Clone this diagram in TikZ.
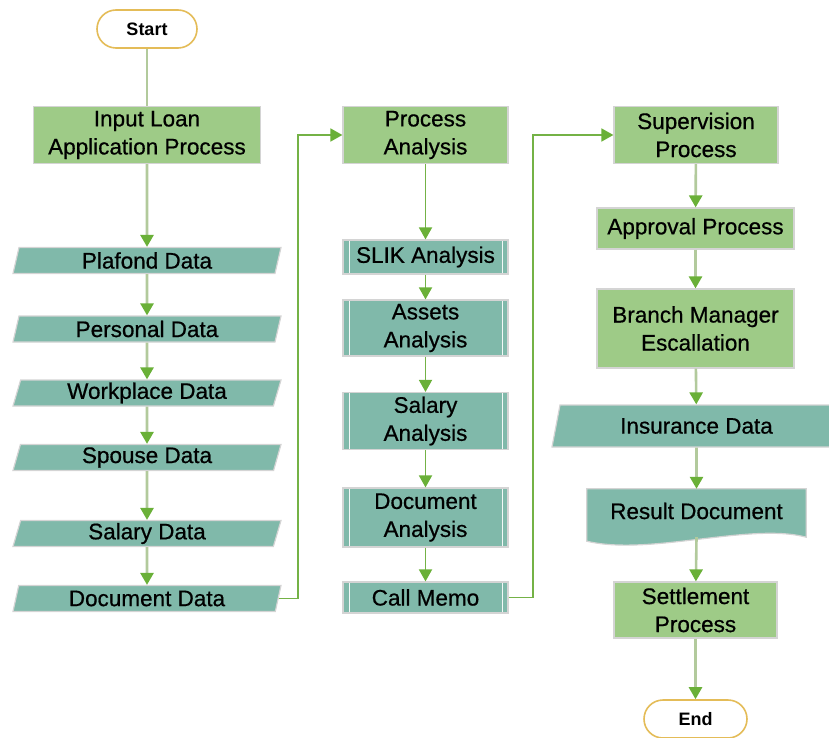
\documentclass[tikz,border=0pt]{standalone}
\usepackage{fontspec}
\setmainfont{Liberation Sans}[BoldFont={Liberation Sans}, BoldFeatures={FakeBold=0.6}]
\newfontfamily\termfont{Liberation Sans}
\usetikzlibrary{arrows.meta, calc, shapes.geometric, backgrounds}
\definecolor{procgreen}{RGB}{158,203,135}
\definecolor{datateal}{RGB}{128,185,170}
\definecolor{boxgray}{RGB}{212,212,212}
\definecolor{termgold}{RGB}{228,188,88}
\definecolor{linepale}{RGB}{178,202,156}
\definecolor{linegreen}{RGB}{116,178,70}
\definecolor{tipgreen}{RGB}{106,176,56}

\begin{document}
\begin{tikzpicture}[x=1pt, y=-1pt,
    every node/.style={font=\fontsize{22.5}{28}\selectfont\bfseries, align=center, inner sep=0pt},
    terminal/.style={draw=termgold, line width=1.6pt, fill=white, rounded corners=19pt, minimum width=100pt, minimum height=38pt, font=\termfont\fontsize{18}{22}\selectfont\bfseries},
    procbox/.style={draw=boxgray, line width=1.2pt, fill=procgreen, minimum height=57pt},
    databox/.style={trapezium, trapezium left angle=70, trapezium right angle=110, trapezium stretches body, draw=boxgray, line width=1.2pt, fill=datateal, minimum width=268pt, minimum height=26pt},
    subproc/.style={draw=boxgray, line width=1.2pt, fill=datateal, minimum width=165pt,
        path picture={\draw[white!90!datateal, line width=1pt]
            ([xshift=6pt]path picture bounding box.north west) -- ([xshift=6pt]path picture bounding box.south west)
            ([xshift=-6pt]path picture bounding box.north east) -- ([xshift=-6pt]path picture bounding box.south east);}},
    flow/.style={linepale, line width=2.6pt, -{Triangle[width=13pt, length=12pt, color=tipgreen]}},
    flowg/.style={flow, linegreen, line width=1.8pt}]
    \useasboundingbox (0,0) rectangle (829,738);

    % Input column
    \node[terminal] (start) at (147,29) {Start};
    \node[procbox, minimum width=227pt] (input) at (147,135) {Input Loan\\Application Process};
    \node[databox] (plafond) at (147,260.5) {Plafond Data};
    \node[databox] (personal) at (147,329) {Personal Data};
    \node[databox] (workplace) at (147,393) {Workplace Data};
    \node[databox] (spouse) at (147,457.5) {Spouse Data};
    \node[databox] (salarydata) at (147,533.5) {Salary Data};
    \node[databox] (docdata) at (147,598.5) {Document Data};

    % Analysis column
    \node[procbox, minimum width=165pt] (procan) at (425.5,135) {Process\\Analysis};
    \node[subproc, minimum height=34pt] (slik) at (425.5,257) {SLIK Analysis};
    \node[subproc, minimum height=56pt] (assets) at (425.5,328) {Assets\\Analysis};
    \node[subproc, minimum height=57pt] (salaryan) at (425.5,421) {Salary\\Analysis};
    \node[subproc, minimum height=59pt] (docan) at (425.5,517.5) {Document\\Analysis};
    \node[subproc, minimum height=31pt] (callmemo) at (425.5,597.5) {Call Memo};

    % Supervision column
    \node[procbox, minimum width=164pt] (superv) at (696,135) {Supervision\\Process};
    \node[procbox, minimum width=197pt, minimum height=41pt] (approval) at (695.5,228.5) {Approval Process};
    \node[procbox, minimum width=197pt, minimum height=79pt] (branch) at (695.5,328.5) {Branch Manager\\Escallation};
    \node[databox, trapezium left angle=63, trapezium right angle=117, minimum width=289pt, minimum height=42pt] (insurance) at (696.5,426) {Insurance Data};
    \node[minimum width=219pt, minimum height=44pt] (result) at (696.5,511) {Result Document};
    \begin{scope}[on background layer]
        \draw[draw=boxgray, line width=1.2pt, fill=datateal] (result.north west) -- (result.north east) -- ([yshift=-4pt]result.south east)
            .. controls ([shift={(-56pt,11pt)}]result.south east) and ([shift={(63pt,-23pt)}]result.south west) .. ([yshift=-8pt]result.south west) -- cycle;
    \end{scope}
    \node[procbox, minimum width=163pt, minimum height=56pt] (settle) at (695.5,610) {Settlement\\Process};
    \node[terminal, minimum width=103pt] (end) at (695.5,719) {End};

    % Jumps between columns
    \coordinate (jumpA) at (298,400);
    \coordinate (jumpB) at (533,400);

    % Connectors
    \draw[linepale, line width=2.6pt] (start) -- (input);
    \draw[flow] (input) -- (plafond);
    \draw[flow] (plafond) -- (personal);
    \draw[flow] (personal) -- (workplace);
    \draw[flow] (workplace) -- (spouse);
    \draw[flow] (spouse) -- (salarydata);
    \draw[flow] (salarydata) -- (docdata);
    \draw[flowg] (docdata.east) -| (jumpA) |- (procan.west);
    \draw[flowg] (procan) -- (slik);
    \draw[flowg] (slik) -- (assets);
    \draw[flowg] (assets) -- (salaryan);
    \draw[flowg] (salaryan) -- (docan);
    \draw[flowg] (docan) -- (callmemo);
    \draw[flowg] (callmemo.east) -| (jumpB) |- (superv.west);
    \draw[flow] (superv) -- (approval);
    \draw[flow] (approval) -- (branch);
    \draw[flow] (branch) -- (insurance);
    \draw[flow] (insurance) -- (result);
    \draw[flow] ([yshift=-4pt]result.south) -- (settle);
    \draw[flow] (settle) -- (end);
\end{tikzpicture}
\end{document}
